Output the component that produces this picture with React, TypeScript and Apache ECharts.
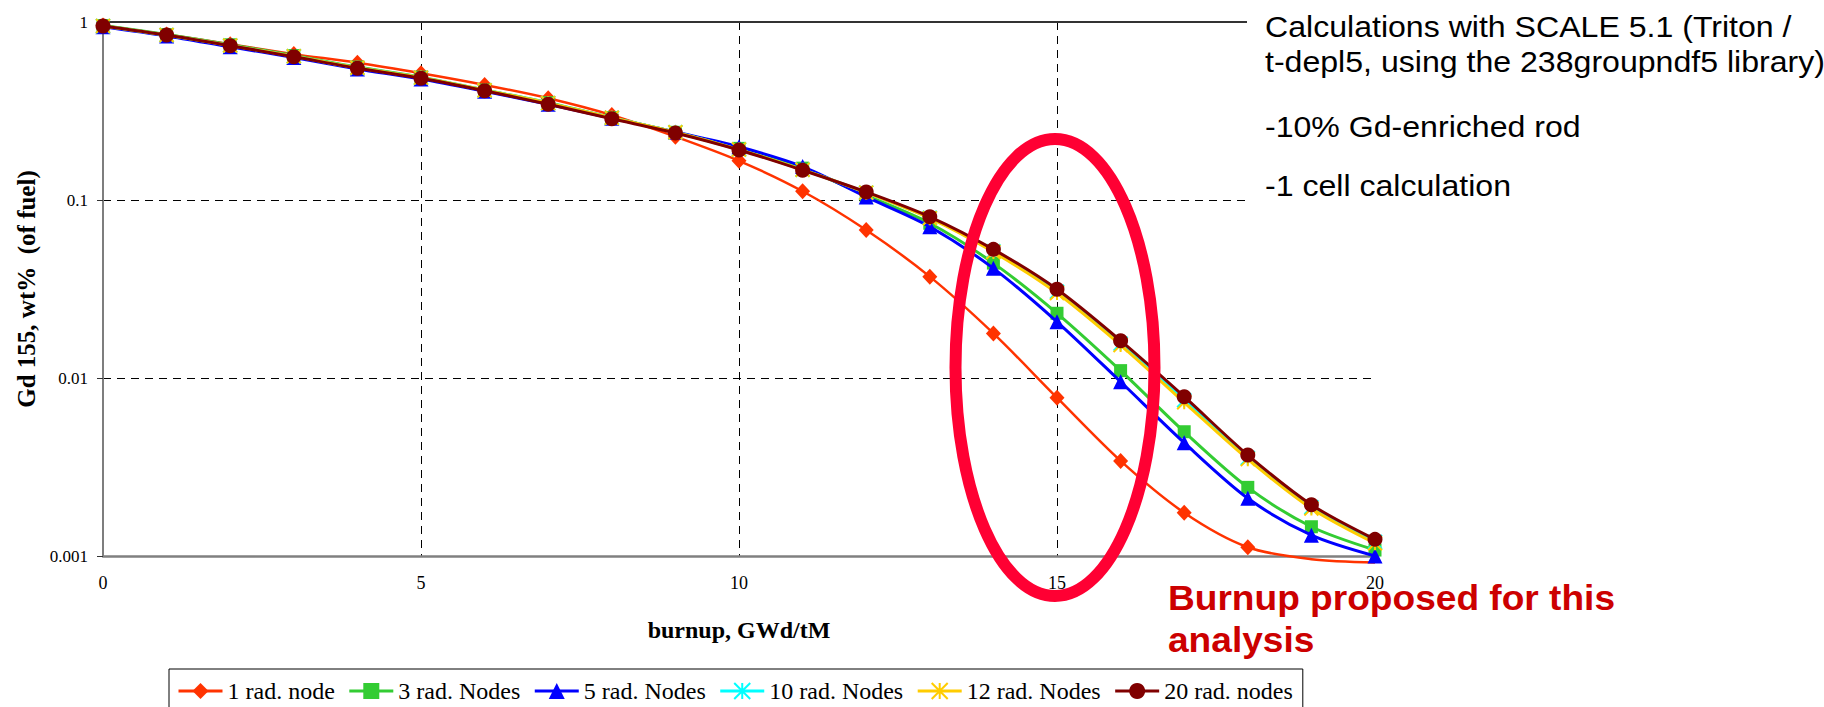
import React, { useEffect, useRef } from "react";
import * as echarts from "echarts";

// ---------- data ----------
const burnup = [0, 1, 2, 3, 4, 5, 6, 7, 8, 9, 10, 11, 12, 13, 14, 15, 16, 17, 18, 19, 20];

const seriesNames = [
  "1 rad. node",
  "3 rad. Nodes",
  "5 rad. Nodes",
  "10 rad. Nodes",
  "12 rad. Nodes",
  "20 rad. nodes",
];

const node1 = [0.955, 0.85, 0.75, 0.66, 0.59, 0.515, 0.443, 0.373, 0.3, 0.227, 0.166, 0.112, 0.0678, 0.0371, 0.0178, 0.00775, 0.00342, 0.00175, 0.00112, 0.00096, 0.00092];
const nodes3 = [0.955, 0.85, 0.745, 0.648, 0.558, 0.49, 0.415, 0.352, 0.29, 0.24, 0.195, 0.151, 0.106, 0.074, 0.0442, 0.0231, 0.011, 0.00499, 0.00243, 0.00146, 0.00108];
const nodes5 = [0.94, 0.835, 0.725, 0.632, 0.545, 0.478, 0.408, 0.345, 0.288, 0.241, 0.199, 0.154, 0.104, 0.0708, 0.0413, 0.0207, 0.00953, 0.00433, 0.00211, 0.00131, 0.001];
const nodes10 = [0.95, 0.845, 0.738, 0.642, 0.553, 0.487, 0.414, 0.35, 0.29, 0.24, 0.192, 0.148, 0.11, 0.0795, 0.0515, 0.0305, 0.0156, 0.0075, 0.00355, 0.00188, 0.0012];
const nodes12 = [0.95, 0.845, 0.738, 0.642, 0.553, 0.487, 0.414, 0.35, 0.29, 0.24, 0.192, 0.148, 0.11, 0.079, 0.051, 0.03, 0.0153, 0.0073, 0.0035, 0.00185, 0.00118];
const nodes20 = [0.95, 0.845, 0.736, 0.638, 0.55, 0.483, 0.411, 0.345, 0.286, 0.238, 0.191, 0.147, 0.111, 0.0805, 0.0528, 0.0315, 0.0162, 0.00785, 0.00369, 0.00194, 0.00124];

const yTickLabels = ["0.001", "0.01", "0.1", "1"];
const xTickLabels = ["0", "5", "10", "15", "20"];

const noteLines = [
  "Calculations with SCALE 5.1 (Triton /",
  "t-depl5, using the 238groupndf5 library)",
  "-10% Gd-enriched rod",
  "-1 cell calculation",
];
const highlightLines = ["Burnup proposed for this", "analysis"];

// ---------- styling ----------
const Y_MIN = 0.001;
const Y_MAX = 1;
const SERIF = "'Liberation Serif', 'Times New Roman', serif";
const SANS = "'Liberation Sans', Arial, sans-serif";

const STAR = "path://M0,0L10,10M10,0L0,10M5,0L5,10";

const seriesStyles = [
  { values: node1, color: "#FF3300", symbol: "diamond", size: [15, 16], width: 2.5, stroke: false },
  { values: nodes3, color: "#33CC33", symbol: "rect", size: 13, width: 3, stroke: false },
  { values: nodes5, color: "#0000FF", symbol: "triangle", size: 15, width: 3, stroke: false },
  { values: nodes10, color: "#00FFFF", symbol: STAR, size: 14, width: 3, stroke: true },
  { values: nodes12, color: "#FFCC00", symbol: STAR, size: 14, width: 3, stroke: true },
  { values: nodes20, color: "#800000", symbol: "circle", size: 15, width: 3, stroke: false },
];

export default function App() {
  const ref = useRef<HTMLDivElement>(null);

  useEffect(() => {
    if (!ref.current) return;
    const chart = echarts.init(ref.current, undefined, { renderer: "svg" });

    const series = seriesStyles.map((s, k) => ({
      name: seriesNames[k],
      type: "line",
      smooth: 0.3,
      clip: false,
      color: s.color,
      symbol: s.symbol,
      symbolSize: s.size,
      showAllSymbol: true,
      lineStyle: { color: s.color, width: s.width },
      itemStyle: s.stroke
        ? { color: s.color, borderColor: s.color, borderWidth: 2 }
        : { color: s.color, borderWidth: 0 },
      data: burnup.map((x, i) =>
        s.values[i] < Y_MIN ? { value: [x, s.values[i]], symbol: "none" } : [x, s.values[i]]
      ),
      z: 2 + k,
    }));

    const noteY = [26.5, 61.5, 126.5, 185.5];

    chart.setOption({
      animation: false,
      backgroundColor: "#ffffff",
      grid: { left: 103, top: 22, right: 449, bottom: 151, containLabel: false },
      xAxis: [
        {
          type: "value",
          min: 0,
          max: 20,
          interval: 5,
          name: "burnup, GWd/tM",
          nameLocation: "middle",
          nameGap: 62,
          nameTextStyle: { fontFamily: SERIF, fontSize: 24, fontWeight: "bold", color: "#000" },
          axisLine: { show: true, onZero: false, lineStyle: { color: "#808080", width: 2.5 } },
          axisTick: { show: false },
          axisLabel: {
            margin: 18,
            fontFamily: SERIF,
            fontSize: 18,
            color: "#000",
            formatter: (v: number) => xTickLabels[Math.round(v / 5)] ?? String(v),
          },
          splitLine: {
            show: true,
            showMinLine: false,
            showMaxLine: false,
            lineStyle: { color: "#000", width: 1, type: [8, 6] },
          },
        },
        {
          type: "value",
          position: "top",
          min: 0,
          max: 20,
          interval: 5,
          axisLine: { show: true, onZero: false, lineStyle: { color: "#333", width: 2 } },
          axisTick: { show: false },
          axisLabel: { show: false },
          splitLine: { show: false },
        },
      ],
      yAxis: [
        {
          type: "log",
          logBase: 10,
          min: Y_MIN,
          max: Y_MAX,
          name: "Gd 155, wt%  (of fuel)",
          nameLocation: "middle",
          nameGap: 64,
          nameTextStyle: { fontFamily: SERIF, fontSize: 25, fontWeight: "bold", color: "#000" },
          axisLine: { show: true, lineStyle: { color: "#333", width: 2 } },
          axisTick: { show: true, length: 6, lineStyle: { color: "#333", width: 1 } },
          axisLabel: {
            margin: 15,
            fontFamily: SERIF,
            fontSize: 17,
            color: "#000",
            formatter: (v: number) => yTickLabels[Math.round(Math.log10(v)) + 3] ?? String(v),
          },
          splitLine: {
            show: true,
            showMinLine: false,
            showMaxLine: false,
            lineStyle: { color: "#000", width: 1, type: [8, 6] },
          },
        },
        {
          type: "log",
          logBase: 10,
          min: Y_MIN,
          max: Y_MAX,
          position: "right",
          axisLine: { show: true, lineStyle: { color: "#999", width: 1.5 } },
          axisTick: { show: false },
          axisLabel: { show: false },
          splitLine: { show: false },
        },
      ],
      legend: {
        left: 169,
        top: 669,
        orient: "horizontal",
        padding: [10, 10, 14, 8],
        itemGap: 13,
        itemWidth: 44,
        itemHeight: 20,
        borderColor: "#000",
        borderWidth: 1,
        backgroundColor: "#fff",
        lineStyle: { width: 3 },
        textStyle: { fontFamily: SERIF, fontSize: 24, color: "#000" },
        data: seriesNames,
      },
      graphic: [
        {
          type: "rect",
          z: 100,
          shape: { x: 1247, y: 0, width: 577, height: 212 },
          style: { fill: "#ffffff" },
        },
        ...noteLines.map((t, i) => ({
          type: "text",
          z: 101,
          x: 1265,
          y: noteY[i],
          scaleX: 1.07,
          style: {
            text: t,
            fill: "#000",
            fontFamily: SANS,
            fontSize: 30,
            align: "left",
            verticalAlign: "middle",
          },
        })),
        {
          type: "ellipse",
          z: 110,
          shape: { cx: 1055, cy: 367.5, rx: 99.5, ry: 228.5 },
          style: { fill: "none", stroke: "#FF0033", lineWidth: 12 },
        },
        ...highlightLines.map((t, i) => ({
          type: "text",
          z: 111,
          x: 1168,
          y: [598, 640][i],
          scaleX: 1.06,
          style: {
            text: t,
            fill: "#CC0000",
            fontFamily: SANS,
            fontSize: 35,
            fontWeight: "bold",
            align: "left",
            verticalAlign: "middle",
          },
        })),
      ],
      series,
    });

    return () => chart.dispose();
  }, []);

  return (
    <div
      ref={ref}
      style={{ position: "fixed", left: 0, top: 0, width: 1824, height: 707, background: "#fff" }}
    />
  );
}
